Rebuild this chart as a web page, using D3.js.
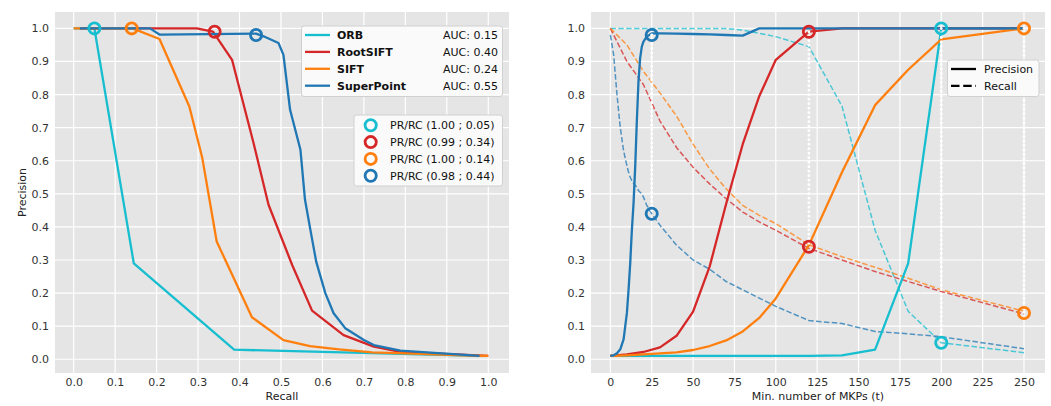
<!DOCTYPE html>
<meta charset="utf-8">
<html>
<head>
<script src="https://d3js.org/d3.v7.min.js"></script>
<style>
  body { margin: 0; background: #fff; }
  text { font-family: "DejaVu Sans", sans-serif; }
</style>
</head>
<body>
<script>

// method names, colours and AUC values
var methods = ["ORB", "RootSIFT", "SIFT", "SuperPoint"];
var colors = ["#17becf", "#d62728", "#ff7f0e", "#1f77b4"];
var aucs = ["0.15", "0.40", "0.24", "0.55"];

// left panel: precision / recall curves
var orbRecall = [0.0, 0.05, 0.145, 0.387, 0.979];
var orbPrecision = [1.0, 1.0, 0.29, 0.029, 0.01];
var rootRecall = [0.015, 0.297, 0.336, 0.382, 0.434, 0.47, 0.527, 0.575, 0.651, 0.724, 0.788, 1.0];
var rootPrecision = [1.0, 1.0, 0.99, 0.905, 0.653, 0.467, 0.285, 0.147, 0.073, 0.038, 0.022, 0.01];
var siftRecall = [0.0, 0.142, 0.207, 0.279, 0.31, 0.345, 0.43, 0.506, 0.57, 0.64, 0.72, 0.8, 0.87, 0.94, 1.0];
var siftPrecision = [1.0, 1.0, 0.968, 0.764, 0.61, 0.356, 0.127, 0.058, 0.04, 0.03, 0.021, 0.018, 0.015, 0.012, 0.01];
var spRecall = [0.015, 0.184, 0.208, 0.44, 0.458, 0.494, 0.506, 0.522, 0.547, 0.558, 0.571, 0.585, 0.607, 0.627, 0.655, 0.7, 0.724, 0.788, 0.979];
var spPrecision = [1.0, 1.0, 0.981, 0.984, 0.976, 0.956, 0.92, 0.754, 0.633, 0.482, 0.391, 0.295, 0.2, 0.139, 0.094, 0.058, 0.043, 0.026, 0.01];

// right panel: precision and recall against t
var tSteps = [0, 10, 20, 30, 40, 50, 60, 70, 80, 90, 100, 120, 140, 160, 180, 200, 250];
var tFine = [0, 2, 4, 6, 8, 10, 11, 12, 13, 14, 15, 16, 17, 18, 19, 20, 22, 25, 30, 40, 50, 60, 70, 80, 90, 100, 120, 140, 160, 180, 200, 250];
var orbPrecT = [0.01, 0.01, 0.01, 0.01, 0.01, 0.01, 0.01, 0.01, 0.01, 0.01, 0.01, 0.01, 0.012, 0.029, 0.29, 1.0, 1.0];
var orbRecT = [1.0, 1.0, 1.0, 1.0, 1.0, 1.0, 1.0, 1.0, 0.995, 0.985, 0.975, 0.945, 0.765, 0.39, 0.145, 0.05, 0.02];
var rootPrecT = [0.01, 0.015, 0.022, 0.036, 0.071, 0.144, 0.28, 0.47, 0.65, 0.795, 0.905, 0.99, 1.0, 1.0, 1.0, 1.0, 1.0];
var rootRecT = [1.0, 0.9, 0.83, 0.72, 0.64, 0.58, 0.53, 0.485, 0.445, 0.415, 0.39, 0.335, 0.3, 0.265, 0.235, 0.205, 0.137];
var siftPrecT = [0.01, 0.012, 0.015, 0.018, 0.021, 0.028, 0.04, 0.057, 0.084, 0.125, 0.184, 0.345, 0.565, 0.768, 0.875, 0.967, 1.0];
var siftRecT = [1.0, 0.95, 0.87, 0.805, 0.735, 0.65, 0.575, 0.515, 0.465, 0.435, 0.41, 0.346, 0.31, 0.278, 0.245, 0.21, 0.145];
var spPrecT = [0.01, 0.012, 0.018, 0.03, 0.06, 0.14, 0.21, 0.29, 0.39, 0.47, 0.58, 0.72, 0.84, 0.91, 0.945, 0.96, 0.975, 0.985, 0.985, 0.984, 0.983, 0.982, 0.98, 0.978, 1.0, 1.0, 1.0, 1.0, 1.0, 1.0, 1.0, 1.0];
var spRecT = [0.98, 0.92, 0.8, 0.7, 0.63, 0.585, 0.565, 0.55, 0.54, 0.532, 0.526, 0.52, 0.51, 0.505, 0.5, 0.49, 0.465, 0.44, 0.405, 0.345, 0.3, 0.272, 0.235, 0.21, 0.185, 0.16, 0.117, 0.108, 0.084, 0.077, 0.068, 0.032];

// operating points: precision, recall, t
var opPrecision = [1.00, 0.99, 1.00, 0.98];
var opRecall = [0.05, 0.34, 0.14, 0.44];
var opT = [200, 120, 250, 25];

var yTicks = [0, 0.1, 0.2, 0.3, 0.4, 0.5, 0.6, 0.7, 0.8, 0.9, 1.0];
var leftTicks = [0, 0.1, 0.2, 0.3, 0.4, 0.5, 0.6, 0.7, 0.8, 0.9, 1.0];
var rightTicks = [0, 25, 50, 75, 100, 125, 150, 175, 200, 225, 250];

var leftCurves = [[orbRecall, orbPrecision], [rootRecall, rootPrecision], [siftRecall, siftPrecision], [spRecall, spPrecision]];
var tCurves = [[tSteps, orbPrecT, orbRecT], [tSteps, rootPrecT, rootRecT], [tSteps, siftPrecT, siftRecT], [tFine, spPrecT, spRecT]];

var width = 1051, height = 406;
var fs = 11;
var svg = d3.select("body").append("svg")
	.attr("width", width)
	.attr("height", height);

var y = d3.scaleLinear().domain([-0.0415, 1.0495]).range([373, 12]);
var xLeft = d3.scaleLinear().domain([-0.045, 1.05]).range([55, 509]);
var xRight = d3.scaleLinear().domain([-11.7, 262.7]).range([591, 1045]);

function zip(a, b) {
	return a.map(function(v, i) { return [v, b[i]]; });
}

// draw background, grid and axes for one panel
function panel(x, xt, fmt, xlabel) {
	var g = svg.append("g");
	g.append("rect")
		.attr("x", x.range()[0]).attr("y", 12)
		.attr("width", x.range()[1] - x.range()[0]).attr("height", 361)
		.attr("fill", "#e5e5e5");
	g.selectAll(".gx").data(xt).enter().append("line")
		.attr("x1", x).attr("x2", x).attr("y1", 12).attr("y2", 373)
		.attr("stroke", "#fff").attr("stroke-width", 1.2);
	g.selectAll(".gy").data(yTicks).enter().append("line")
		.attr("x1", x.range()[0]).attr("x2", x.range()[1])
		.attr("y1", y).attr("y2", y)
		.attr("stroke", "#fff").attr("stroke-width", 1.2);

	var ax = g.append("g").attr("transform", "translate(0,373)")
		.call(d3.axisBottom(x).tickValues(xt).tickFormat(fmt).tickSize(0).tickPadding(5));
	var ay = g.append("g").attr("transform", "translate(" + x.range()[0] + ",0)")
		.call(d3.axisLeft(y).tickValues(yTicks).tickFormat(d3.format(".1f")).tickSize(0).tickPadding(6));
	[ax, ay].forEach(function(a) {
		a.select(".domain").remove();
		a.selectAll("text").attr("font-size", fs).attr("fill", "#333")
			.attr("font-family", "DejaVu Sans");
	});

	g.append("text")
		.attr("x", (x.range()[0] + x.range()[1]) / 2).attr("y", 400)
		.attr("text-anchor", "middle").attr("font-size", fs).attr("fill", "#222")
		.text(xlabel);

	var clip = "clip" + Math.round(x.range()[0]);
	svg.append("clipPath").attr("id", clip).append("rect")
		.attr("x", x.range()[0]).attr("y", 12)
		.attr("width", x.range()[1] - x.range()[0]).attr("height", 361);
	return svg.append("g").attr("clip-path", "url(#" + clip + ")");
}

// ---- left panel ----
var plotL = panel(xLeft, leftTicks, d3.format(".1f"), "Recall");
svg.append("text")
	.attr("transform", "translate(22," + ((12 + 373) / 2) + ") rotate(-90)")
	.attr("text-anchor", "middle").attr("dy", "0.35em")
	.attr("font-size", fs).attr("fill", "#222")
	.text("Precision");

var lineL = d3.line().x(function(d) { return xLeft(d[0]); }).y(function(d) { return y(d[1]); });
leftCurves.forEach(function(c, i) {
	plotL.append("path")
		.attr("d", lineL(zip(c[0], c[1])))
		.attr("fill", "none").attr("stroke", colors[i])
		.attr("stroke-width", 2.3).attr("stroke-linejoin", "round");
});
methods.forEach(function(m, i) {
	plotL.append("circle")
		.attr("cx", xLeft(opRecall[i])).attr("cy", y(opPrecision[i]))
		.attr("r", 5.6).attr("fill", "none")
		.attr("stroke", colors[i]).attr("stroke-width", 2.8);
});

// legend with AUC values
var leg1 = svg.append("g");
leg1.append("rect")
	.attr("x", 301.5).attr("y", 26).attr("width", 201).attr("height", 70.5)
	.attr("rx", 2.5).attr("fill", "#fafafa").attr("stroke", "#d0d0d0");
methods.forEach(function(m, i) {
	var yy = 35 + i * 16.9;
	leg1.append("line").attr("x1", 305).attr("x2", 330).attr("y1", yy).attr("y2", yy)
		.attr("stroke", colors[i]).attr("stroke-width", 2.3);
	leg1.append("text").attr("x", 337).attr("y", yy).attr("dy", "0.35em")
		.attr("font-size", fs).attr("font-weight", "bold").attr("fill", "#111").text(m);
	leg1.append("text").attr("x", 498).attr("y", yy).attr("dy", "0.35em")
		.attr("text-anchor", "end").attr("font-size", fs).attr("fill", "#111")
		.text("AUC: " + aucs[i]);
});

// legend with the operating points
var leg2 = svg.append("g");
leg2.append("rect")
	.attr("x", 354).attr("y", 115).attr("width", 148.5).attr("height", 71)
	.attr("rx", 2.5).attr("fill", "#fafafa").attr("stroke", "#d0d0d0");
methods.forEach(function(m, i) {
	var yy = 125.3 + i * 16.8;
	leg2.append("circle").attr("cx", 370.7).attr("cy", yy).attr("r", 5.6)
		.attr("fill", "none").attr("stroke", colors[i]).attr("stroke-width", 2.8);
	leg2.append("text").attr("x", 390).attr("y", yy).attr("dy", "0.35em")
		.attr("font-size", fs).attr("fill", "#111")
		.text("PR/RC (" + opPrecision[i].toFixed(2) + " ; " + opRecall[i].toFixed(2) + ")");
});

// ---- right panel ----
var plotR = panel(xRight, rightTicks, d3.format("d"), "Min. number of MKPs (t)");
var lineR = d3.line().x(function(d) { return xRight(d[0]); }).y(function(d) { return y(d[1]); });

// recall (dashed, lighter)
tCurves.forEach(function(c, i) {
	plotR.append("path")
		.attr("d", lineR(zip(c[0], c[2])))
		.attr("fill", "none").attr("stroke", colors[i]).attr("stroke-opacity", 0.75)
		.attr("stroke-width", 1.5).attr("stroke-dasharray", "5.5,2.4");
});
// precision (solid)
tCurves.forEach(function(c, i) {
	plotR.append("path")
		.attr("d", lineR(zip(c[0], c[1])))
		.attr("fill", "none").attr("stroke", colors[i])
		.attr("stroke-width", 2.3).attr("stroke-linejoin", "round");
});
// dotted white guides between precision and recall at the chosen t
methods.forEach(function(m, i) {
	plotR.append("line")
		.attr("x1", xRight(opT[i])).attr("x2", xRight(opT[i]))
		.attr("y1", y(opPrecision[i])).attr("y2", y(opRecall[i]))
		.attr("stroke", "#fff").attr("stroke-width", 2.9)
		.attr("stroke-linecap", "round").attr("stroke-dasharray", "0.1,4.4");
});
methods.forEach(function(m, i) {
	[opPrecision[i], opRecall[i]].forEach(function(v) {
		plotR.append("circle")
			.attr("cx", xRight(opT[i])).attr("cy", y(v))
			.attr("r", 5.6).attr("fill", "none")
			.attr("stroke", colors[i]).attr("stroke-width", 2.8);
	});
});

// precision / recall style legend
var leg3 = svg.append("g");
leg3.append("rect")
	.attr("x", 947.5).attr("y", 60).attr("width", 91.5).attr("height", 36.5)
	.attr("rx", 2.5).attr("fill", "#fafafa").attr("stroke", "#d0d0d0");
["Precision", "Recall"].forEach(function(lab, i) {
	var yy = 69 + i * 16.8;
	leg3.append("line").attr("x1", 951).attr("x2", 976).attr("y1", yy).attr("y2", yy)
		.attr("stroke", "#000").attr("stroke-width", 2.3)
		.attr("stroke-dasharray", i == 1 ? "8.5,3.7" : null);
	leg3.append("text").attr("x", 984).attr("y", yy).attr("dy", "0.35em")
		.attr("font-size", fs).attr("fill", "#111").text(lab);
});

</script>
</body>
</html>
